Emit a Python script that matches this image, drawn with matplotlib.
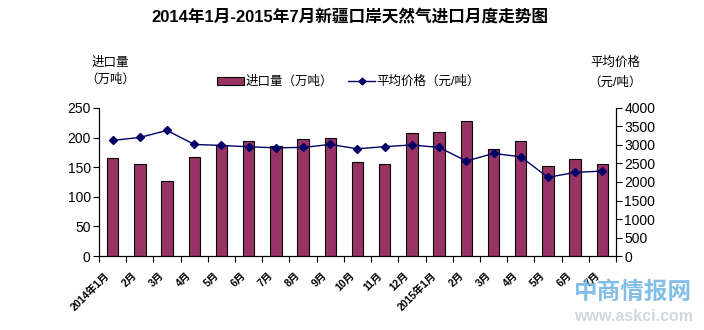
import matplotlib
matplotlib.use("Agg")
import matplotlib.pyplot as plt
from matplotlib.lines import Line2D
from matplotlib.patches import Patch

plt.rcParams['font.family'] = ['Liberation Sans', 'Noto Sans CJK SC', 'DejaVu Sans']

# Monthly natural gas imports through Xinjiang ports, Jan 2014 - Jul 2015
months = ["2014年1月", "2月", "3月", "4月", "5月", "6月", "7月", "8月", "9月",
          "10月", "11月", "12月", "2015年1月", "2月", "3月", "4月", "5月", "6月", "7月"]
volume = [166, 156, 127, 168, 188, 195, 185, 197, 200,
          158, 156, 207, 209, 228, 180, 194, 152, 163, 156]       # 万吨
price = [3122, 3203, 3392, 3014, 2987, 2950, 2923, 2933, 3014,
         2896, 2955, 3000, 2933, 2565, 2772, 2680, 2125, 2260, 2295]  # 元/吨

bar_color = "#993366"
line_color = "#000066"

fig = plt.figure(figsize=(7.04, 3.30), dpi=100)
ax = fig.add_axes([0.1406, 0.224, 0.7344, 0.449])
x = list(range(len(months)))

ax.bar(x, volume, width=0.42, color=bar_color, edgecolor="black", linewidth=0.8, zorder=2)
ax.set_xlim(-0.5, len(months) - 0.5)
ax.set_ylim(0, 250)
ax.set_yticks(range(0, 251, 50))

ax2 = ax.twinx()
ax2.plot(x, price, color=line_color, linewidth=1, marker="D", markersize=4, zorder=3)
ax2.set_ylim(0, 4000)
ax2.set_yticks(range(0, 4001, 500))

for a in (ax, ax2):
    a.spines["top"].set_visible(False)
    a.spines["left"].set_linewidth(0.8)
    a.spines["right"].set_linewidth(0.8)
    a.spines["bottom"].set_linewidth(0.8)
    a.tick_params(axis="y", direction="out", length=4, width=0.8, labelsize=10, pad=2)

# category ticks between bars, labels rotated under each bar
ax.set_xticks([i - 0.5 for i in range(len(months) + 1)])
ax.set_xticklabels([])
ax.tick_params(axis="x", direction="out", length=4, width=0.8)
for i, m in enumerate(months):
    ax.text(i - 0.3, -24, m, rotation=45, ha="right", va="top", fontsize=7.5,
            fontweight="bold", rotation_mode="anchor", clip_on=False)

fig.text(0.497, 0.948, "2014年1月-2015年7月新疆口岸天然气进口月度走势图",
         ha="center", va="center", fontsize=12, fontweight="bold")

fig.text(0.156, 0.81, "进口量", ha="center", va="center", fontsize=9)
fig.text(0.156, 0.757, "（万吨）", ha="center", va="center", fontsize=9)
fig.text(0.874, 0.81, "平均价格", ha="center", va="center", fontsize=9)
fig.text(0.874, 0.748, "（元/吨）", ha="center", va="center", fontsize=9)

handles = [Patch(facecolor=bar_color, edgecolor="black", linewidth=0.8),
           Line2D([], [], color=line_color, marker="D", markersize=3.5, linewidth=1)]
fig.legend(handles, ["进口量（万吨）", "平均价格（元/吨）"], loc="center",
           bbox_to_anchor=(0.495, 0.752), ncol=2, frameon=False, fontsize=9,
           handlelength=2.2, handleheight=0.6, handletextpad=0.1, columnspacing=1.2)

# site watermark
fig.text(0.815, 0.115, "中商情报网", ha="left", va="center", fontsize=17,
         fontweight="bold", color="#6db3e3", alpha=0.85)
fig.text(0.815, 0.04, "www.askci.com", ha="left", va="center", fontsize=11.5,
         fontweight="bold", color="#d0d8de")

fig.savefig("out.png", dpi=100, facecolor="white")
